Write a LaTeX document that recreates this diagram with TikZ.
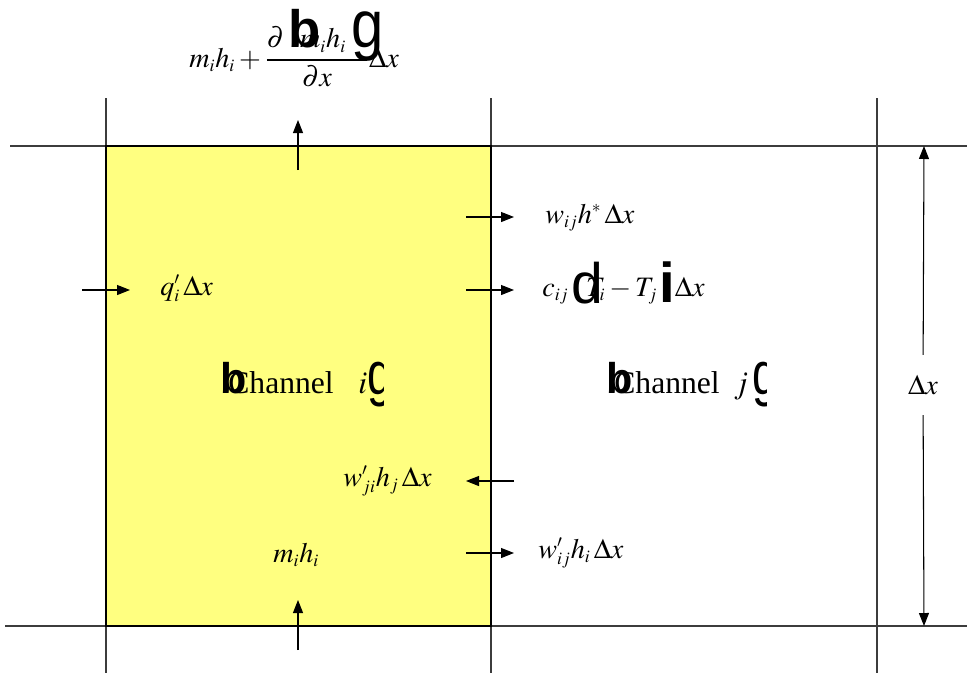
\documentclass[tikz,border=0pt]{standalone}
\usepackage{amsmath}
\usepackage{mathptmx}
\usepackage{graphicx}
\usepackage{fontspec}
\setmainfont{Liberation Serif}
\newfontfamily\glyphfont{Liberation Sans}
\DeclareMathSizes{16}{16}{10}{7}
\DeclareMathSizes{18}{18}{11}{8}
\usetikzlibrary{arrows.meta}
\definecolor{chanyellow}{RGB}{255,255,128}
\definecolor{gridgray}{RGB}{60,60,60}

\begin{document}
\begin{tikzpicture}[x=0.02cm,y=-0.02cm,>={Triangle[length=2.6mm,width=2mm]},
    grid/.style={gridgray,line width=0.6pt},
    flow/.style={->,line width=0.6pt},
    lbl/.style={inner sep=0pt,anchor=base west,font=\fontsize{16}{18}\selectfont},
    chan/.style={inner sep=0pt,anchor=base west,font=\fontsize{18}{20}\selectfont},
    glyph/.style={inner sep=0pt,anchor=base west,font=\glyphfont\fontsize{#1}{#1}\selectfont},
    boldglyph/.style={inner sep=0pt,anchor=base west,font=\glyphfont\bfseries\fontsize{#1}{#1}\selectfont},
    glyph/.default=28]
    \useasboundingbox (0,0) rectangle (967,673);

    % Channel i
    \fill[chanyellow] (106,146) rectangle (491,626);

    % Grid
    \draw[grid] (10,146) -- (967,146);
    \draw[grid] (5,626) -- (967,626);
    \foreach \x in {106,491,877}
        \draw[grid] (\x,98) -- (\x,673);
    \draw[line width=1.6pt] (106,146) rectangle (491,626);

    % Flow labels
    \node[lbl] (axout) at (189,67)
        {$m_i h_i + \dfrac{\partial\hspace{9pt} m_i h_i\hspace{12pt}}{\partial x}\Delta x$};
    \node[lbl] (axin) at (273,562) {$m_i h_i$};
    \node[lbl] (heat) at (160,295) {$q'_i\,\Delta x$};
    \node[lbl] (mixing) at (545,223) {$w_{ij}h^{*}\,\Delta x$};
    \node[lbl] (conduct) at (542,296)
        {$c_{ij}\hspace{10pt}T_i - T_j\hspace{10pt}\Delta x$};
    \node[lbl] (turbin) at (343,486) {$w'_{ji}h_j\,\Delta x$};
    \node[lbl] (turbout) at (538,558) {$w'_{ij}h_i\,\Delta x$};

    % Broken bracket glyphs
    \node[boldglyph=30] (brkA) at (288,47) {b};
    \node[glyph=33] (brkB) at (351,47) {\scalebox{1}[1.15]{g}};
    \node[glyph=32.5] (brkC) at (571,303) {d};
    \node[boldglyph=32] (brkD) at (659,302) {i};

    % Channel names
    \begin{scope}
        \clip (200,340) rectangle (383,420);
        \node[chan] (chani) at (228,393) {Channel\hspace{14pt}$i$};
        \node[boldglyph=24.5] (brkE) at (220,393) {b};
        \node[glyph=26] (brkF) at (367,394) {\scalebox{1}[1.32]{g}};
    \end{scope}
    \begin{scope}
        \clip (590,340) rectangle (766,420);
        \node[chan] (chanj) at (614,393) {Channel\hspace{8pt}$j$};
        \node[boldglyph=24.5] (brkG) at (606,393) {b};
        \node[glyph=26] (brkH) at (752,394) {\scalebox{1}[1.32]{g}};
    \end{scope}

    % Arrows
    \coordinate (topin) at (298,170);
    \coordinate (topout) at (298,120);
    \coordinate (botin) at (298,650);
    \coordinate (botout) at (298,600);
    \coordinate (qs) at (82,290);
    \coordinate (qe) at (130,290);
    \coordinate (ms) at (466,217);
    \coordinate (me) at (514,217);
    \coordinate (cs) at (466,290);
    \coordinate (ce) at (514,290);
    \coordinate (ts) at (514,481);
    \coordinate (te) at (466,481);
    \coordinate (us) at (466,553);
    \coordinate (ue) at (514,553);
    \draw[flow] (topin) -- (topout);
    \draw[flow] (botin) -- (botout);
    \draw[flow] (qs) -- (qe);
    \draw[flow] (ms) -- (me);
    \draw[flow] (cs) -- (ce);
    \draw[flow] (ts) -- (te);
    \draw[flow] (us) -- (ue);

    % Dimension
    \node[inner sep=0pt,inner ysep=0.4cm,font=\fontsize{16}{18}\selectfont] (dimlbl) at (923,385) {$\Delta x$};
    \coordinate (dimtop) at (924,146);
    \coordinate (dimbot) at (924,626);
    \draw[flow] (dimlbl) -- (dimtop);
    \draw[flow] (dimlbl) -- (dimbot);
\end{tikzpicture}
\end{document}
